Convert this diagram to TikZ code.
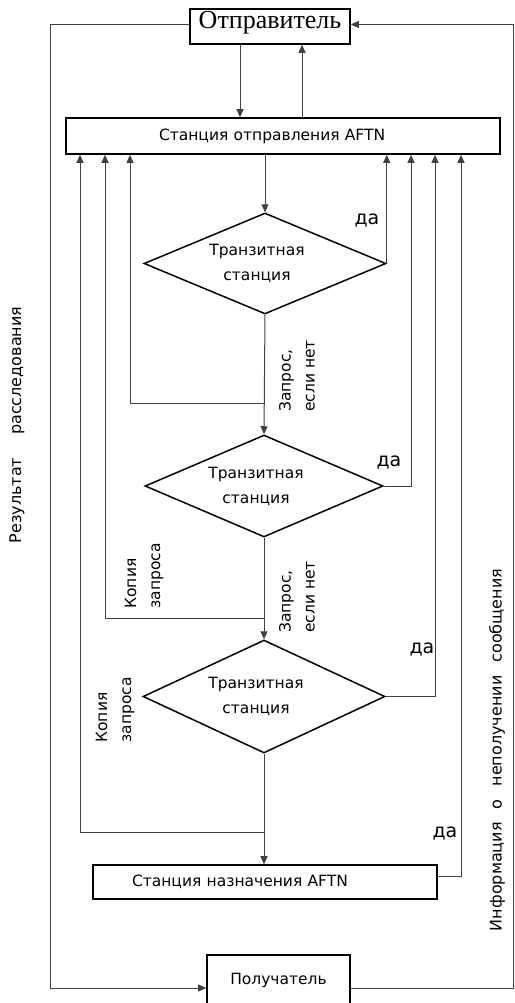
\documentclass[tikz,border=0pt]{standalone}
\usepackage{fontspec}
\setmainfont{Liberation Serif}
\newfontfamily\dvs{DejaVu Sans}
\usetikzlibrary{arrows.meta,shapes.geometric}
\begin{document}
\begin{tikzpicture}[x=1pt,y=-1pt,
  box/.style={draw=black,line width=1.6pt,rectangle,inner sep=0pt},
  boxtext/.style={font=\dvs\fontsize{15.5}{18}\selectfont},
  dia/.style={draw=black,line width=1.5pt,diamond,aspect=2.4,inner sep=0pt,minimum width=242pt,minimum height=101pt,
    font=\dvs\fontsize{15.5}{25}\selectfont,align=center},
  conn/.style={draw=black!75,line width=1pt},
  arr/.style={conn,-{Triangle[length=8pt,width=7pt]}},
  lbl/.style={font=\dvs\fontsize{19}{22}\selectfont,inner sep=0pt},
  rlbl/.style={font=\dvs\fontsize{15.5}{24}\selectfont,inner sep=0pt,rotate=90,align=left},
  slbl/.style={font=\dvs\fontsize{16}{20}\selectfont,inner sep=0pt,rotate=90},
]
\clip (0,0) rectangle (514,1003);
\fill[white] (0,0) rectangle (514,1003);

% nodes
\node[box,minimum width=160pt,minimum height=35pt,font=\fontsize{26}{28}\selectfont,
  text height=17pt,text depth=13.5pt] (sender) at (270,26.5) {Отправитель};
\node[box,boxtext,minimum width=434pt,minimum height=36pt,
  align=left,text width=248pt,inner xsep=93pt] (src) at (283,136) {Станция отправления AFTN};
\node[dia] (d1) at (265,263.5) {Транзитная\hspace*{16pt}\\станция\hspace*{16pt}};
\node[dia,minimum width=238pt,minimum height=102pt] (d2) at (264,486) {Транзитная\hspace*{16pt}\\станция\hspace*{16pt}};
\node[dia,minimum height=113pt] (d3) at (264,696.5) {Транзитная\hspace*{16pt}\\станция\hspace*{16pt}};
\node[box,boxtext,minimum width=344pt,minimum height=34pt,
  align=left,text width=266pt,inner xsep=39pt] (dst) at (265,882) {Станция назначения AFTN};
\node[box,boxtext,minimum width=143pt,minimum height=50pt] (rcv) at (278.5,980) {Получатель};

% coordinates
\coordinate (j1) at (265,403);
\coordinate (j2) at (265,618);
\coordinate (j3) at (265,832);
\coordinate (l1) at (130,0);
\coordinate (l2) at (105,0);
\coordinate (l3) at (80,0);
\coordinate (r2) at (411,0);
\coordinate (r3) at (435,0);
\coordinate (r4) at (461,0);
\coordinate (lo) at (50,0);
\coordinate (ro) at (513,0);

% connectors
\draw[arr] ([xshift=-30pt]sender.south) -- ([xshift=-30pt]sender.south |- src.north);
\draw[arr] ([xshift=32pt]sender.south |- src.north) -- ([xshift=32pt]sender.south);
\draw[arr] (src.south -| d1.north) -- (d1.north);
\draw[arr] (d1.south) -- (d2.north);
\draw[arr] (d2.south) -- (d3.north);
\draw[arr] (d3.south) -- (d3.south |- dst.north);
\draw[arr] (d1.east) -- (d1.east |- src.south);
\draw[arr] (d2.east) -| (r2 |- src.south);
\draw[arr] (d3.east) -| (r3 |- src.south);
\draw[arr] ([yshift=6pt]dst.east) -| (r4 |- src.south);
\draw[arr] (j1) -| (l1 |- src.south);
\draw[arr] (j2) -| (l2 |- src.south);
\draw[arr] (j3) -| (l3 |- src.south);
\draw[arr] ([yshift=2pt]sender.west) -| ([yshift=-8pt]rcv.west -| lo) -- ([yshift=-8pt]rcv.west);
\draw[arr] ([yshift=-8pt]rcv.east) -| ([yshift=2pt]sender.east -| ro) -- ([yshift=2pt]sender.east);

% labels
\node[lbl] (da1) at (367,220) {да};
\node[lbl] (da2) at (389,462) {да};
\node[lbl] (da3) at (422,649) {да};
\node[lbl] (da4) at (445,833) {да};
\node[rlbl] (q1) at (297,376) {Запрос,\\если нет};
\node[rlbl] (q2) at (297,597) {Запрос,\\если нет};
\node[rlbl] (k1) at (144,576) {Копия\\запроса};
\node[rlbl] (k2) at (115,710) {Копия\\запроса};
\node[slbl] (res) at (17,425) {Результат\hspace{23pt}расследования};
\node[slbl] (inf) at (497,750) {Информация\hspace{13pt}о\hspace{13pt}неполучении\hspace{13pt}сообщения};
\end{tikzpicture}
\end{document}
